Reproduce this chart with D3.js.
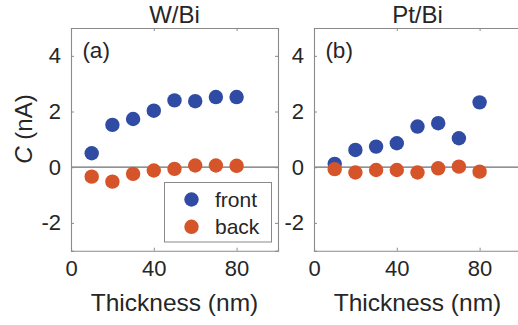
<!DOCTYPE html>
<html><head><meta charset="utf-8">
<script src="https://cdn.jsdelivr.net/npm/d3@7"></script>
<style>
body{margin:0;background:#fff;}
svg text{font-family:"Liberation Sans",Arial,Helvetica,sans-serif;fill:#262626;}
</style></head>
<body><svg id="c" width="518" height="325"></svg>
<script>
const thickness = [10,20,30,40,50,60,70,80];
const wbiFront = [0.50,1.52,1.73,2.03,2.40,2.37,2.52,2.52];
const wbiBack  = [-0.34,-0.52,-0.24,-0.12,-0.06,0.06,0.06,0.05];
const ptbiFront = [0.12,0.62,0.74,0.86,1.46,1.58,1.04,2.33];
const ptbiBack  = [-0.07,-0.19,-0.10,-0.10,-0.19,-0.04,0.02,-0.16];
const xTicks = [0,40,80];
const yTicks = [-2,0,2,4];
const titles = ["W/Bi","Pt/Bi"];
const panelLabels = ["(a)","(b)"];
const seriesNames = ["front","back"];
const colors = ["#2F4BA4","#D5542A"];

const svg = d3.select("#c");
const plotTop = 28, plotBottom = 250.7, plotW = 207;
const lefts = [71, 314];
const panels = [[wbiFront, wbiBack],[ptbiFront, ptbiBack]];
const axisColor = "#8a8a8a";
const fmt = d => String(d);

panels.forEach((series, p) => {
  const L = lefts[p];
  const x = d3.scaleLinear().domain([0,100]).range([L, L+plotW]);
  const y = d3.scaleLinear().domain([-3,5]).range([plotBottom, plotTop]);
  const g = svg.append("g");
  // zero line
  g.append("line").attr("x1",x(0)).attr("x2",x(100)).attr("y1",y(0)).attr("y2",y(0))
    .attr("stroke","#6e6e6e").attr("stroke-width",1.2);
  // points
  series.forEach((vals, s) => {
    g.selectAll(null).data(thickness).enter().append("circle")
      .attr("cx", d => x(d)).attr("cy", (d,i) => y(vals[i])).attr("r", 7.2)
      .attr("fill", colors[s]);
  });
  // axes (ticks inside)
  const ax = [
    [d3.axisBottom(x).tickValues(xTicks).tickSize(-3).tickPadding(10).tickFormat(fmt), `translate(0,${plotBottom})`],
    [d3.axisTop(x).tickValues(xTicks).tickSize(-3).tickFormat(""), `translate(0,${plotTop})`],
    [d3.axisLeft(y).tickValues(yTicks).tickSize(-3).tickPadding(10).tickFormat(fmt), `translate(${L},0)`],
    [d3.axisRight(y).tickValues(yTicks).tickSize(-3).tickFormat(""), `translate(${L+plotW},0)`]
  ];
  ax.forEach(([a, tr]) => {
    const ag = g.append("g").attr("transform", tr).call(a);
    ag.select(".domain").attr("stroke", axisColor).attr("stroke-width",1.1);
    ag.selectAll(".tick line").attr("stroke", axisColor);
    ag.selectAll(".tick text").attr("font-size", 22).attr("fill","#262626")
      .style("font-family","'Liberation Sans',Arial,sans-serif");
  });
  // title
  g.append("text").attr("x", x(50)).attr("y", 23).attr("text-anchor","middle")
    .attr("font-size", 24).text(titles[p]);
  // panel label
  g.append("text").attr("x", x(5.5)).attr("y", 58).attr("font-size", 22.5).text(panelLabels[p]);
  // x label
  g.append("text").attr("x", x(50)).attr("y", 311).attr("text-anchor","middle")
    .attr("font-size", 24.5).text("Thickness (nm)");
});

// y label
const yl = svg.append("text").attr("transform","translate(32,129) rotate(-90)")
  .attr("text-anchor","middle").attr("font-size",24);
yl.append("tspan").attr("font-style","italic").text("C");
yl.append("tspan").text(" (nA)");

// legend
const lg = svg.append("g");
lg.append("rect").attr("x",164.5).attr("y",182.5).attr("width",107).attr("height",59.5)
  .attr("fill","#fff").attr("stroke","#8a8a8a").attr("stroke-width",1);
seriesNames.forEach((n,i) => {
  lg.append("circle").attr("cx",191.5).attr("cy",199.5+i*27.3).attr("r",7.2).attr("fill",colors[i]);
  lg.append("text").attr("x",215).attr("y",207+i*27.3).attr("font-size",21).text(n);
});
</script></body></html>
